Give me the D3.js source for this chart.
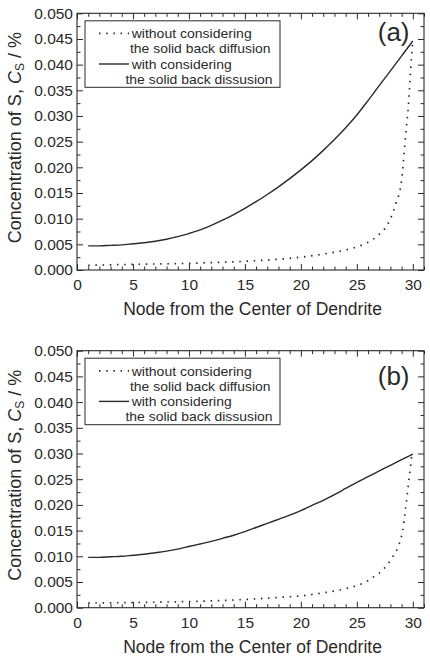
<!DOCTYPE html>
<html>
<head>
<meta charset="utf-8">
<script src="https://cdn.jsdelivr.net/npm/d3@7"></script>
<style>
  html, body { margin: 0; padding: 0; background: #fff; }
  svg { display: block; font-family: "Liberation Sans", Arial, sans-serif; }
</style>
</head>
<body>
<svg id="chart" width="430" height="656"></svg>
<script>
// ---------- data ----------
const nodes = d3.range(1, 31); // 1..30
const xTicks = [0, 5, 10, 15, 20, 25, 30];
const yTicks = [0.000, 0.005, 0.010, 0.015, 0.020, 0.025, 0.030, 0.035, 0.040, 0.045, 0.050];
const legendLabels = ["without considering", "the solid back diffusion", "with considering", "the solid back dissusion"];
const panelLabels = ["(a)", "(b)"];

// (a) with back diffusion (solid)
const solidA = [0.0047, 0.0047, 0.0048, 0.0049, 0.0051, 0.0053, 0.0056, 0.0060, 0.0065, 0.0071,
                0.0078, 0.0087, 0.0097, 0.0108, 0.0120, 0.0133, 0.0147, 0.0162, 0.0178, 0.0195,
                0.0213, 0.0233, 0.0254, 0.0277, 0.0302, 0.0330, 0.0359, 0.0388, 0.0417, 0.0446];
// (a) without back diffusion (dotted)
const dotAx = [1, 5, 10, 15, 18, 20, 22, 24, 25, 26, 26.75, 27.8, 28.5, 29.0, 29.2, 29.4, 29.6, 29.75, 29.88, 30];
const dotAy = [0.0009, 0.0011, 0.0013, 0.0017, 0.0021, 0.0025, 0.0031, 0.0039, 0.0045, 0.0054,
               0.0065, 0.0091, 0.0130, 0.0175, 0.0221, 0.0273, 0.0318, 0.0370, 0.0415, 0.0445];

// (b) with back diffusion (solid)
const solidB = [0.0098, 0.0098, 0.0099, 0.0100, 0.0102, 0.0104, 0.0107, 0.0110, 0.0114, 0.0119,
                0.0124, 0.0129, 0.0135, 0.0141, 0.0148, 0.0156, 0.0164, 0.0172, 0.0180, 0.0189,
                0.0199, 0.0209, 0.0220, 0.0232, 0.0244, 0.0255, 0.0266, 0.0277, 0.0288, 0.0299];
// (b) without back diffusion (dotted)
const dotBx = [1, 5, 10, 15, 18, 20, 22, 24, 25, 25.5, 26.5, 27.3, 28.2, 28.8, 29.1, 29.3, 29.45, 29.65, 29.8, 29.9, 30];
const dotBy = [0.0009, 0.0010, 0.0012, 0.0016, 0.0020, 0.0023, 0.0029, 0.0037, 0.0043, 0.0047,
               0.0060, 0.0073, 0.0099, 0.0125, 0.0151, 0.0184, 0.0210, 0.0248, 0.0274, 0.0294, 0.0299];

// ---------- drawing ----------
const svg = d3.select("#chart");
const ink = "#2a2a2a";
const left = 77, right = 424;

function drawPanel(top, bottom, solid, dx, dy, label, labelBaseline) {
  const g = svg.append("g");
  const x = d3.scaleLinear().domain([0, 31]).range([left, right]);
  const y = d3.scaleLinear().domain([0, 0.05]).range([bottom, top]);

  const xMinor = d3.range(0, 32).filter(v => v % 5 !== 0);
  const yMinor = d3.range(0, 21).filter(i => i % 2 === 1).map(i => i * 0.0025);

  const axB = d3.axisBottom(x).tickValues(xTicks).tickSizeInner(-6).tickSizeOuter(0).tickPadding(9).tickFormat(d3.format("d"));
  g.append("g").attr("transform", `translate(0,${bottom})`).call(axB);
  g.append("g").attr("transform", `translate(0,${bottom})`)
    .call(d3.axisBottom(x).tickValues(xMinor).tickSizeInner(-3.5).tickSizeOuter(0).tickFormat(""));
  g.append("g").attr("transform", `translate(0,${top})`)
    .call(d3.axisTop(x).tickValues(xTicks).tickSizeInner(-6).tickSizeOuter(0).tickFormat(""));
  g.append("g").attr("transform", `translate(0,${top})`)
    .call(d3.axisTop(x).tickValues(xMinor).tickSizeInner(-3.5).tickSizeOuter(0).tickFormat(""));

  const axL = d3.axisLeft(y).tickValues(yTicks).tickSizeInner(-6).tickSizeOuter(0).tickPadding(4).tickFormat(d3.format(".3f"));
  g.append("g").attr("transform", `translate(${left},0)`).call(axL);
  g.append("g").attr("transform", `translate(${left},0)`)
    .call(d3.axisLeft(y).tickValues(yMinor).tickSizeInner(-3.5).tickSizeOuter(0).tickFormat(""));
  g.append("g").attr("transform", `translate(${right},0)`)
    .call(d3.axisRight(y).tickValues(yTicks).tickSizeInner(-6).tickSizeOuter(0).tickFormat(""));
  g.append("g").attr("transform", `translate(${right},0)`)
    .call(d3.axisRight(y).tickValues(yMinor).tickSizeInner(-3.5).tickSizeOuter(0).tickFormat(""));

  g.selectAll(".domain").remove();
  g.selectAll(".tick line").attr("stroke", ink).attr("stroke-width", 1);
  g.selectAll(".tick text").attr("fill", ink).style("font-size", "15.5px")
    .style("font-family", '"Liberation Sans", Arial, sans-serif');

  // frame
  g.append("rect").attr("x", left).attr("y", top).attr("width", right - left).attr("height", bottom - top)
    .attr("fill", "none").attr("stroke", ink).attr("stroke-width", 1.1);

  // curves
  const line = d3.line().x(d => x(d[0])).y(d => y(d[1])).curve(d3.curveMonotoneX);
  g.append("path").datum(nodes.map((n, i) => [n, solid[i]]))
    .attr("d", line).attr("fill", "none").attr("stroke", ink).attr("stroke-width", 1.4);
  g.append("path").datum(dx.map((n, i) => [n, dy[i]]))
    .attr("d", line).attr("fill", "none").attr("stroke", ink).attr("stroke-width", 1.7)
    .attr("stroke-dasharray", "1.5 5.7");

  // legend
  const lx = 85, ly = top + 7.5, lw = 195, lh = 66.5;
  g.append("rect").attr("x", lx).attr("y", ly).attr("width", lw).attr("height", lh)
    .attr("fill", "#fff").attr("stroke", ink).attr("stroke-width", 1);
  const rows = [
    {t: legendLabels[0], x: 131.7, y: ly + 17.3, w: 120},
    {t: legendLabels[1], x: 130, y: ly + 32.6, w: 140.5},
    {t: legendLabels[2], x: 131.7, y: ly + 47.9, w: 100},
    {t: legendLabels[3], x: 125.5, y: ly + 63.2, w: 147}
  ];
  rows.forEach(r => {
    g.append("text").attr("x", r.x).attr("y", r.y).text(r.t)
      .attr("textLength", r.w).attr("lengthAdjust", "spacingAndGlyphs")
      .attr("fill", ink).style("font-size", "13.5px");
  });
  g.append("line").attr("x1", 99).attr("x2", 129).attr("y1", ly + 12.6).attr("y2", ly + 12.6)
    .attr("stroke", ink).attr("stroke-width", 1.7).attr("stroke-dasharray", "1.5 5.7");
  g.append("line").attr("x1", 99).attr("x2", 129).attr("y1", ly + 43.2).attr("y2", ly + 43.2)
    .attr("stroke", ink).attr("stroke-width", 1.4);

  // panel label
  g.append("text").attr("x", 409.5).attr("y", labelBaseline).attr("text-anchor", "end")
    .text(label).attr("fill", ink).style("font-size", "26px");

  // y-axis title
  const cy = (top + bottom) / 2 - 4;
  const yt = g.append("text").attr("transform", `translate(20.5,${cy}) rotate(-90)`)
    .attr("text-anchor", "middle").attr("fill", ink).style("font-size", "18px");
  yt.append("tspan").text("Concentration of S, ");
  yt.append("tspan").text("C").style("font-style", "italic");
  yt.append("tspan").text("S").style("font-size", "12px").attr("dy", 3);
  yt.append("tspan").text(" / %").attr("dy", -3);

  // x-axis title
  g.append("text").attr("x", (left + right) / 2 + 2).attr("y", bottom + 45)
    .attr("text-anchor", "middle").attr("fill", ink).style("font-size", "17.5px")
    .text("Node from the Center of Dendrite");
}

drawPanel(13.3, 270, solidA, dotAx, dotAy, panelLabels[0], 41);
drawPanel(350.7, 607.7, solidB, dotBx, dotBy, panelLabels[1], 385);
</script>
</body>
</html>
